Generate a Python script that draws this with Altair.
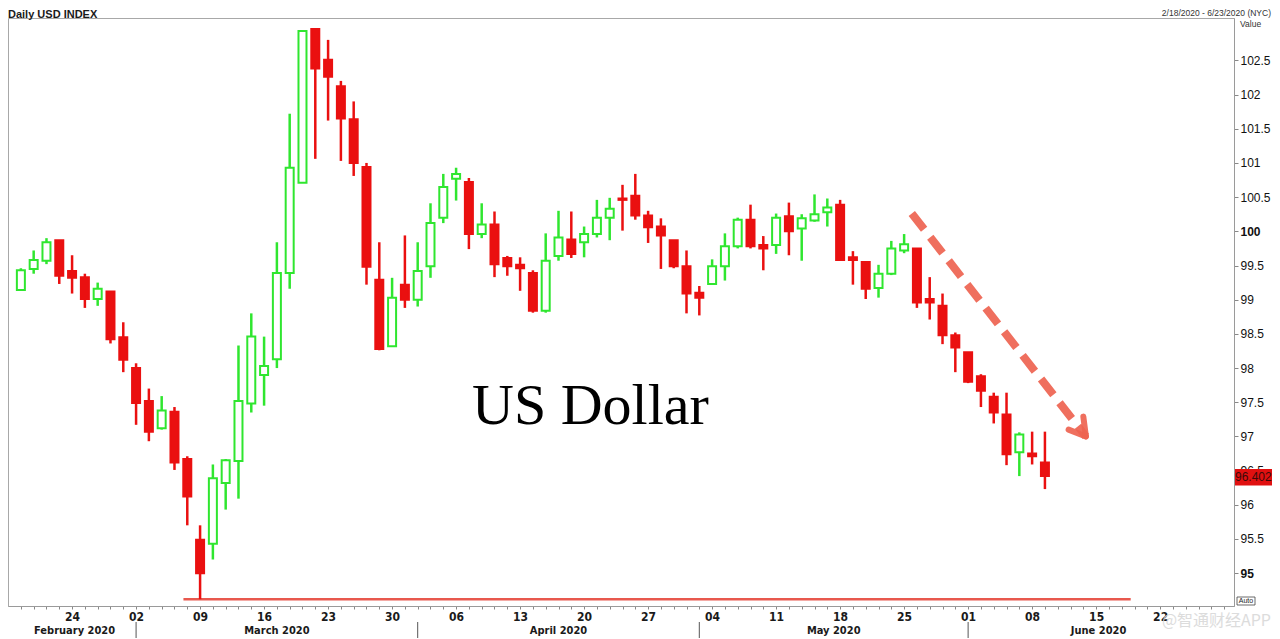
import altair as alt
import pandas as pd

# ---------------- data ----------------
dates = [
    "2020-02-18", "2020-02-19", "2020-02-20", "2020-02-21", "2020-02-24", "2020-02-25", "2020-02-26",
    "2020-02-27", "2020-02-28",
    "2020-03-02", "2020-03-03", "2020-03-04", "2020-03-05", "2020-03-06", "2020-03-09", "2020-03-10",
    "2020-03-11", "2020-03-12", "2020-03-13", "2020-03-16", "2020-03-17", "2020-03-18", "2020-03-19",
    "2020-03-20", "2020-03-23", "2020-03-24", "2020-03-25", "2020-03-26", "2020-03-27", "2020-03-30",
    "2020-03-31",
    "2020-04-01", "2020-04-02", "2020-04-03", "2020-04-06", "2020-04-07", "2020-04-08", "2020-04-09",
    "2020-04-10", "2020-04-13", "2020-04-14", "2020-04-15", "2020-04-16", "2020-04-17", "2020-04-20",
    "2020-04-21", "2020-04-22", "2020-04-23", "2020-04-24", "2020-04-27", "2020-04-28", "2020-04-29",
    "2020-04-30",
    "2020-05-01", "2020-05-04", "2020-05-05", "2020-05-06", "2020-05-07", "2020-05-08", "2020-05-11",
    "2020-05-12", "2020-05-13", "2020-05-14", "2020-05-15", "2020-05-18", "2020-05-19", "2020-05-20",
    "2020-05-21", "2020-05-22", "2020-05-25", "2020-05-26", "2020-05-27", "2020-05-28", "2020-05-29",
    "2020-06-01", "2020-06-02", "2020-06-03", "2020-06-04", "2020-06-05", "2020-06-08", "2020-06-09",
]
opens = [
    99.14, 99.45, 99.57, 99.87, 99.42, 99.33, 99.01, 99.12, 98.45,
    98.00, 97.52, 97.12, 97.36, 96.67, 95.49, 95.43, 96.32, 96.64, 97.48, 97.90, 98.13, 99.39, 100.71,
    102.96, 102.51, 102.12, 101.64, 100.94, 99.29, 98.32, 99.22,
    99.00, 99.49, 100.20, 100.77, 100.72, 99.96, 100.10, 99.61, 99.51, 99.39, 98.84, 99.64, 99.88,
    99.84, 99.96, 100.20, 100.48, 100.52, 100.23, 100.07, 99.87, 99.49,
    99.10, 99.23, 99.49, 99.78, 100.17, 99.80, 99.80, 100.22, 100.04, 100.16, 100.28, 100.39, 99.62,
    99.55, 99.17, 99.38, 99.72, 99.75, 99.01, 98.91, 98.48,
    98.23, 97.88, 97.58, 97.32, 96.77, 96.75, 96.62,
]
highs = [
    99.46, 99.72, 99.90, 99.87, 99.65, 99.38, 99.25, 99.12, 98.67,
    98.07, 97.70, 97.59, 97.43, 96.71, 95.70, 96.59, 96.67, 98.33, 98.80, 98.46, 99.84, 101.72, 102.93,
    102.96, 102.80, 102.20, 101.90, 101.00, 99.84, 99.32, 99.94,
    99.84, 100.41, 100.84, 100.93, 100.78, 100.41, 100.29, 99.64, 99.62, 99.43, 99.97, 100.30, 100.29,
    100.07, 100.46, 100.49, 100.68, 100.84, 100.30, 100.19, 99.87, 99.72,
    99.20, 99.59, 99.97, 100.20, 100.39, 99.93, 100.26, 100.42, 100.25, 100.54, 100.48, 100.46, 99.71,
    99.55, 99.51, 99.86, 99.96, 99.75, 99.33, 99.09, 98.52,
    98.23, 97.91, 97.64, 97.64, 97.06, 97.07, 97.07,
]
lows = [
    99.13, 99.38, 99.52, 99.23, 99.09, 98.88, 98.91, 98.36, 97.94,
    97.17, 96.93, 97.10, 96.51, 95.70, 94.62, 95.20, 95.93, 96.09, 97.35, 97.45, 98.00, 99.16, 100.71,
    101.06, 101.62, 101.03, 100.81, 99.22, 98.26, 98.32, 98.88,
    98.90, 99.32, 100.12, 100.45, 99.74, 99.90, 99.33, 99.35, 99.13, 98.81, 98.81, 99.57, 99.61,
    99.62, 99.91, 99.87, 100.01, 100.17, 99.83, 99.45, 99.46, 98.80,
    98.77, 99.23, 99.28, 99.75, 99.75, 99.43, 99.67, 99.65, 99.57, 100.14, 100.07, 99.57, 99.22,
    99.01, 99.03, 99.36, 99.68, 98.88, 98.71, 98.35, 97.94,
    97.78, 97.43, 97.19, 96.58, 96.42, 96.59, 96.23,
]
closes = [
    99.43, 99.58, 99.84, 99.35, 99.32, 99.01, 99.16, 98.42, 98.12,
    97.49, 97.07, 97.38, 96.62, 96.12, 95.00, 96.39, 96.65, 97.52, 98.46, 98.03, 99.39, 100.93, 102.93,
    102.38, 102.26, 101.65, 101.00, 99.48, 98.28, 99.03, 99.00,
    99.42, 100.12, 100.65, 100.84, 99.96, 100.10, 99.52, 99.49, 99.46, 98.84, 99.57, 99.91, 99.67,
    99.96, 100.20, 100.33, 100.46, 100.23, 100.06, 99.94, 99.49, 99.09,
    99.03, 99.49, 99.78, 100.17, 99.78, 99.75, 100.20, 100.00, 100.19, 100.25, 100.35, 99.58, 99.58,
    99.16, 99.38, 99.75, 99.81, 98.96, 98.96, 98.48, 98.30,
    97.80, 97.67, 97.35, 96.74, 97.03, 96.71, 96.42,
]

# x axis: trading-day index of each Monday and its label
monday_index = [4, 9, 14, 19, 24, 29, 34, 39, 44, 49, 54, 59, 64, 69, 74, 79, 84, 89]
day_labels = ["24", "02", "09", "16", "23", "30", "06", "13", "20", "27",
              "04", "11", "18", "25", "01", "08", "15", "22"]
month_names = ["February 2020", "March 2020", "April 2020", "May 2020", "June 2020"]
month_from = [-0.615, 9, 31, 53, 74]
month_to = [9, 31, 53, 74, 94.38]
separator_index = [9, 31, 53, 74]

y_ticks = [95, 95.5, 96, 96.5, 97, 97.5, 98, 98.5, 99, 99.5, 100, 100.5, 101, 101.5, 102, 102.5]
x_domain = [-0.615, 94.38]
y_domain = [94.52, 103.12]

support_level = 94.62
support_from = [12.7]
support_to = [86.7]

arrow_x = [69.6, 83.2]
arrow_y = [100.26, 97.0]
head_x = [81.85, 83.0]
head_y = [97.10, 97.29]
head_x2 = [83.2, 83.2]
head_y2 = [97.0, 97.0]

last_value = 96.402
text_x = [44.5]
text_y = [97.43]

# ---------------- styling ----------------
W, H = 1226, 588
GREEN = "#2fe62f"
RED = "#ea1010"
ARROW = "#ee6350"
NARROW = "Liberation Sans Narrow, DejaVu Sans Condensed, Arial Narrow, Arial, sans-serif"
SANS = "Liberation Sans, Arial, Helvetica, sans-serif"

df = pd.DataFrame({"i": list(range(len(dates))), "date": dates, "open": opens,
                   "high": highs, "low": lows, "close": closes})

mi = "[" + ",".join(str(v) for v in monday_index) + "]"
ml = "[" + ",".join("'" + s + "'" for s in day_labels) + "]"
label_expr = f"indexof({mi}, datum.value) >= 0 ? {ml}[indexof({mi}, datum.value)] : ''"

x_axis = alt.Axis(title=None, values=list(range(0, 95)), labelExpr=label_expr, tickSize=3,
                  tickColor="#888888", domainColor="#9a9a9a", labelFont=NARROW, labelFontSize=12,
                  labelFontWeight="bold", labelColor="#1a1a1a", labelOverlap=False, labelFlush=False,
                  labelPadding=2, grid=False)
y_axis = alt.Axis(title=None, orient="right", values=y_ticks, format="~g", tickSize=4,
                  tickColor="#888888", domainColor="#9a9a9a", labelFont=SANS, labelFontSize=12,
                  labelColor="#111111", labelPadding=2, grid=False, labelOverlap=False, labelFlush=False,
                  labelFontWeight={"condition": {"test": "datum.value % 5 === 0", "value": "bold"},
                                   "value": "normal"})
xs = alt.Scale(domain=x_domain, nice=False, zero=False)
ys = alt.Scale(domain=y_domain, nice=False, zero=False)

up = "datum.close > datum.open"

support = alt.Chart(pd.DataFrame({"a": support_from, "b": support_to, "v": [support_level]})).mark_rule(
    color="#e8584e", strokeWidth=2.5).encode(
    x=alt.X("a:Q", scale=xs, axis=x_axis), x2="b:Q", y=alt.Y("v:Q", scale=ys, axis=y_axis))

wicks = alt.Chart(df).mark_rule(strokeWidth=2.5).encode(
    x=alt.X("i:Q", scale=xs, axis=x_axis),
    y=alt.Y("low:Q", scale=ys, axis=y_axis), y2="high:Q",
    color=alt.condition(up, alt.value(GREEN), alt.value(RED)))

bodies = alt.Chart(df).mark_bar(size=8, strokeWidth=2).encode(
    x=alt.X("i:Q", scale=xs, axis=x_axis),
    y=alt.Y("open:Q", scale=ys, axis=y_axis), y2="close:Q",
    fill=alt.condition(up, alt.value("white"), alt.value(RED)),
    stroke=alt.condition(up, alt.value(GREEN), alt.value(RED)))

arrow = alt.Chart(pd.DataFrame({"x": arrow_x, "y": arrow_y})).mark_line(
    color=ARROW, strokeWidth=8, strokeDash=[20, 10], opacity=0.92).encode(
    x=alt.X("x:Q", scale=xs, axis=x_axis), y=alt.Y("y:Q", scale=ys, axis=y_axis))

head = alt.Chart(pd.DataFrame({"x": head_x, "y": head_y, "x2": head_x2, "y2": head_y2})).mark_rule(
    color=ARROW, strokeWidth=6, opacity=0.92, strokeCap="round").encode(
    x=alt.X("x:Q", scale=xs, axis=x_axis), y=alt.Y("y:Q", scale=ys, axis=y_axis), x2="x2:Q", y2="y2:Q")

big_text = alt.Chart(pd.DataFrame({"x": text_x, "y": text_y, "t": ["US Dollar"]})).mark_text(
    font="Liberation Serif, Times New Roman, serif", fontSize=58, color="#000000",
    align="center", baseline="middle").encode(
    x=alt.X("x:Q", scale=xs, axis=x_axis), y=alt.Y("y:Q", scale=ys, axis=y_axis), text="t:N")

months = pd.DataFrame({"m": month_names, "a": month_from, "b": month_to})
month_text = alt.Chart(months).transform_calculate(mid="(datum.a + datum.b) / 2").mark_text(
    font=NARROW, fontSize=11, fontWeight="bold", color="#1a1a1a", baseline="alphabetic").encode(
    x=alt.X("mid:Q", scale=xs, axis=x_axis), y=alt.value(H + 28), text="m:N")

seps = alt.Chart(pd.DataFrame({"s": separator_index})).mark_rule(color="#555555", strokeWidth=1).encode(
    x=alt.X("s:Q", scale=xs, axis=x_axis), y=alt.value(H + 16), y2=alt.value(H + 32))

last_box = alt.Chart(pd.DataFrame({"v": [last_value]})).transform_calculate(
    lo="datum.v - 0.12", hi="datum.v + 0.12", lab="format(datum.v, '.3f')")
box = last_box.mark_rect(color="#e01010").encode(
    x=alt.value(W + 1), x2=alt.value(W + 38), y=alt.Y("lo:Q", scale=ys, axis=y_axis), y2="hi:Q")
box_text = last_box.mark_text(font=SANS, fontSize=12, color="#3a0a0a", align="left",
                              baseline="middle").encode(
    x=alt.value(W + 1), y=alt.Y("v:Q", scale=ys, axis=y_axis), text="lab:N")

one = pd.DataFrame({"t": ["Daily USD INDEX"]})
title_t = alt.Chart(one).mark_text(font=SANS, fontSize=11, fontWeight="bold", color="#1a1a1a",
                                   align="left", baseline="alphabetic").encode(
    x=alt.value(0), y=alt.value(-0.5), text="t:N")
range_t = alt.Chart(pd.DataFrame({"t": ["2/18/2020 - 6/23/2020 (NYC)"]})).mark_text(
    font=SANS, fontSize=8.5, color="#333333", align="right", baseline="alphabetic").encode(
    x=alt.value(W + 37), y=alt.value(-2), text="t:N")
value_t = alt.Chart(pd.DataFrame({"t": ["Value"]})).mark_text(
    font=SANS, fontSize=8.5, color="#333333", align="left", baseline="alphabetic").encode(
    x=alt.value(W + 6), y=alt.value(9), text="t:N")
auto_box = alt.Chart(pd.DataFrame({"t": ["Auto"]})).mark_rect(
    fill="white", stroke="#444444", strokeWidth=0.8).encode(
    x=alt.value(W + 3), x2=alt.value(W + 21), y=alt.value(H - 9), y2=alt.value(H - 1))
auto_t = alt.Chart(pd.DataFrame({"t": ["Auto"]})).mark_text(
    font=SANS, fontSize=7, color="#222222", align="center", baseline="middle").encode(
    x=alt.value(W + 12), y=alt.value(H - 5), text="t:N")
watermark = alt.Chart(pd.DataFrame({"t": ["@智通财经APP"]})).mark_text(
    font="Noto Sans CJK SC", fontSize=16, color="#d9d9d9", align="right", baseline="alphabetic",
    opacity=0.9).encode(x=alt.value(W + 37), y=alt.value(H + 20), text="t:N")

chart = alt.layer(
    support, wicks, bodies, arrow, head, big_text, month_text, seps,
    box, box_text, title_t, range_t, value_t, auto_box, auto_t, watermark
).properties(
    width=W, height=H,
    autosize=alt.AutoSizeParams(type="none"),
    padding={"left": 0, "top": 10, "right": 38, "bottom": 33},
    background="white",
).configure_view(stroke="#a8a8a8", strokeWidth=1)

chart.save("out.html", embed_options={"renderer": "svg", "actions": False})
